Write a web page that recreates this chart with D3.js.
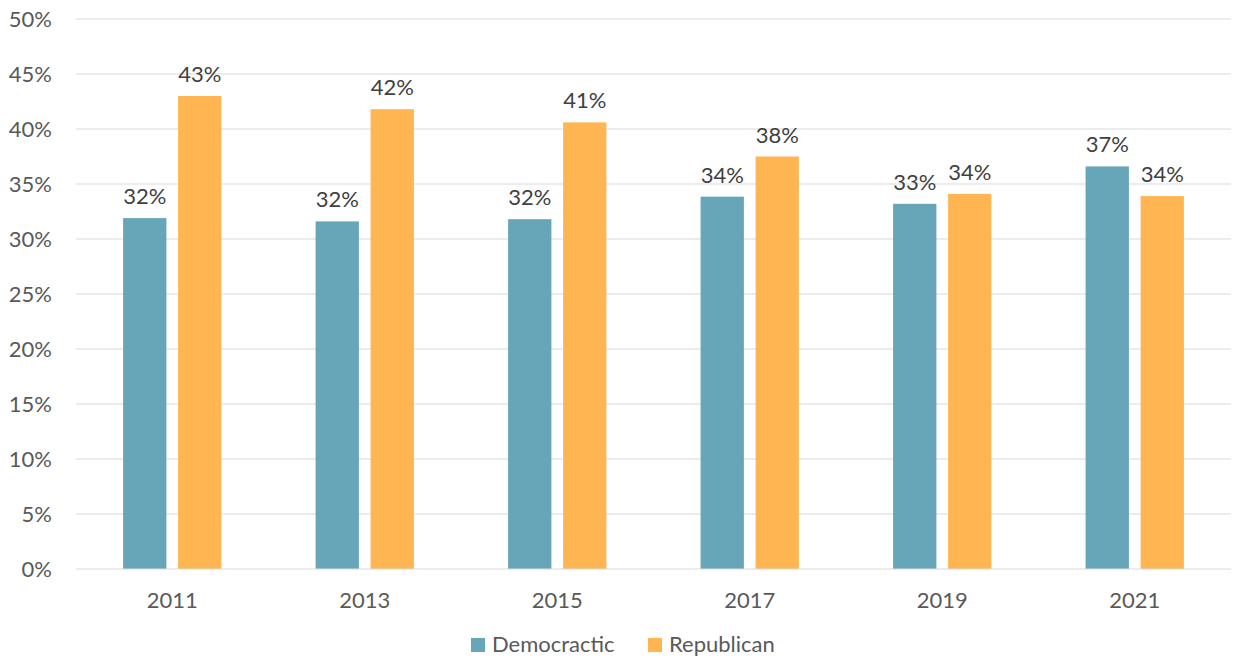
<!DOCTYPE html>
<html>
<head>
<meta charset="utf-8">
<script src="https://cdn.jsdelivr.net/npm/d3@7"></script>
<style>
html,body{margin:0;padding:0;background:#fff;}
text{font-family:Lato,"Open Sans",sans-serif;}
</style>
</head>
<body>
<svg id="chart" width="1236" height="660"></svg>
<script>
const years = ["2011","2013","2015","2017","2019","2021"];
const seriesNames = ["Democractic","Republican"];
const democratic = [31.9, 31.6, 31.8, 33.85, 33.2, 36.6];
const republican = [43.0, 41.8, 40.6, 37.5, 34.1, 33.9];
const democraticLabels = ["32%","32%","32%","34%","33%","37%"];
const republicanLabels = ["43%","42%","41%","38%","34%","34%"];
const yTicks = [0,5,10,15,20,25,30,35,40,45,50];
const colors = ["#67A6B8","#FFB652"];

(function(){
const svg = d3.select("#chart");
const mLeft = 76, mRight = 1231, mTop = 19, mBottom = 569;
const fs = 22;

const x0 = d3.scaleBand().domain(years).range([mLeft, mRight]).padding(0);
const bw = x0.bandwidth();
const x1 = d3.scaleBand().domain(seriesNames).range([bw/2 - 49.15, bw/2 + 49.15]).paddingInner(0.213);
const y = d3.scaleLinear().domain([0,50]).range([mBottom, mTop]);

// gridlines
svg.append("g").selectAll("line").data(yTicks.filter(d => d > 0)).join("line")
  .attr("x1", mLeft).attr("x2", mRight)
  .attr("y1", d => y(d)).attr("y2", d => y(d))
  .attr("stroke", "#D9D9D9").attr("stroke-width", 1.2);

// y axis labels
const yAxis = d3.axisLeft(y).tickValues(yTicks).tickFormat(d => d + "%").tickSize(0).tickPadding(0);
const ya = svg.append("g").attr("transform", `translate(52,0)`).call(yAxis);
ya.select(".domain").remove();
ya.selectAll("text").attr("font-size", fs).attr("fill", "#595959").attr("font-family", "Lato,sans-serif");

// bars
const data = years.map((yr, i) => ({
  year: yr,
  vals: [
    {s: seriesNames[0], v: democratic[i], label: democraticLabels[i], c: colors[0]},
    {s: seriesNames[1], v: republican[i], label: republicanLabels[i], c: colors[1]}
  ]
}));

const groups = svg.append("g").selectAll("g").data(data).join("g")
  .attr("transform", d => `translate(${x0(d.year)},0)`);

groups.selectAll("rect").data(d => d.vals).join("rect")
  .attr("x", d => x1(d.s))
  .attr("width", x1.bandwidth())
  .attr("y", d => y(d.v))
  .attr("height", d => y(0) - y(d.v))
  .attr("fill", d => d.c);

groups.selectAll("text.lbl").data(d => d.vals).join("text")
  .attr("class", "lbl")
  .attr("x", d => x1(d.s) + x1.bandwidth()/2)
  .attr("y", d => y(d.v) - 14)
  .attr("text-anchor", "middle")
  .attr("font-size", fs)
  .attr("fill", "#404040")
  .text(d => d.label);

// x axis
svg.append("line").attr("x1", mLeft).attr("x2", mRight)
  .attr("y1", mBottom).attr("y2", mBottom)
  .attr("stroke", "#D9D9D9").attr("stroke-width", 1.2);
const xAxis = d3.axisBottom(x0).tickSize(0).tickPadding(0);
const xa = svg.append("g").attr("transform", `translate(0,${mBottom})`).call(xAxis);
xa.select(".domain").remove();
xa.selectAll("text").attr("dy", null).attr("y", 39).attr("font-size", fs).attr("fill", "#595959").attr("font-family", "Lato,sans-serif");

// legend
const legendX = [471, 648];
const lg = svg.append("g").selectAll("g").data(seriesNames).join("g")
  .attr("transform", (d, i) => `translate(${legendX[i]},638)`);
lg.append("rect").attr("width", 14).attr("height", 14).attr("fill", (d, i) => colors[i]);
lg.append("text").attr("x", 21).attr("y", 14).attr("font-size", fs).attr("fill", "#595959").text(d => d);
})();
</script>
</body>
</html>
